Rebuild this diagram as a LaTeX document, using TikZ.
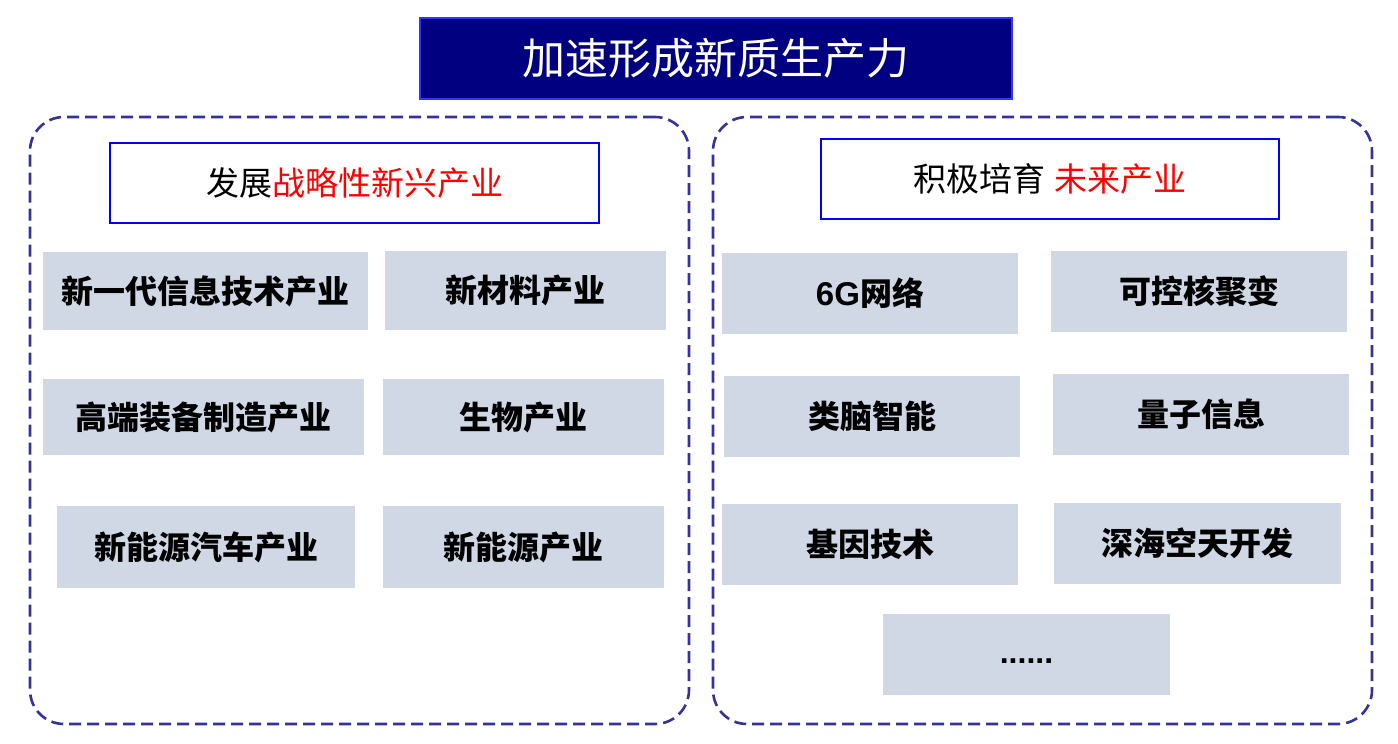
\documentclass[tikz,border=0pt]{standalone}
\usepackage{fontspec}
\setmainfont{Noto Sans CJK SC}
\newfontfamily\latin{Liberation Sans}
\usepackage{tikz}
\usepackage{xcolor}
\definecolor{titlenavy}{HTML}{000080}
\definecolor{titleedge}{HTML}{3333FF}
\definecolor{panelblue}{HTML}{333399}
\definecolor{headblue}{HTML}{0000FF}
\definecolor{cellgray}{HTML}{D0D8E6}
\definecolor{hotred}{HTML}{FF0000}

\begin{document}
\begin{tikzpicture}[x=1pt, y=-1pt, every node/.style={inner sep=0pt}]
\tikzstyle{titlebox}=[rectangle, draw=titleedge, fill=titlenavy, line width=1.2pt, text=white, font=\fontsize{43}{50}\selectfont]
\tikzstyle{panel}=[rectangle, draw=panelblue, line width=2.6pt, dash pattern=on 12pt off 6pt, rounded corners=34pt, minimum width=659pt, minimum height=607pt]
\tikzstyle{headbox}=[rectangle, draw=headblue, line width=2pt, fill=white, minimum height=80pt, font=\fontsize{33}{40}\selectfont]
\tikzstyle{cell}=[rectangle, fill=cellgray, font=\fontsize{32}{38}\selectfont\bfseries]
\useasboundingbox (0,0) rectangle (1398,744);
% title
\node[titlebox, minimum width=592pt, minimum height=81pt] (title) at (716,58.5) {加速形成新质生产力};
% two dashed panels
\node[panel] (leftpanel) at (359.5,420.5) {};
\node[panel] (rightpanel) at (1042.5,420.5) {};
% headers
\node[headbox, minimum width=489pt] (lefthead) at (354.5,183) {发展\textcolor{hotred}{战略性新兴产业}};
\node[headbox, minimum width=458pt] (righthead) at (1050,179) {积极培育\hspace{0.25em}\textcolor{hotred}{未来产业}};
% strategic emerging industries
\node[cell, minimum width=325pt, minimum height=78pt] (infotech) at (205.5,291) {新一代信息技术产业};
\node[cell, minimum width=281pt, minimum height=79pt] (material) at (525.5,290.5) {新材料产业};
\node[cell, minimum width=321pt, minimum height=76pt] (equip) at (203.5,417) {高端装备制造产业};
\node[cell, minimum width=281pt, minimum height=76pt] (bio) at (523.5,417) {生物产业};
\node[cell, minimum width=298pt, minimum height=82pt] (nev) at (206,547) {新能源汽车产业};
\node[cell, minimum width=281pt, minimum height=82pt] (energy) at (523.5,547) {新能源产业};
% future industries
\node[cell, minimum width=296pt, minimum height=81pt] (sixg) at (870,293.5) {{\latin\bfseries\fontsize{33}{38}\selectfont 6G}网络};
\node[cell, minimum width=296pt, minimum height=81pt] (fusion) at (1199,291.5) {可控核聚变};
\node[cell, minimum width=296pt, minimum height=81pt] (brain) at (872,416.5) {类脑智能};
\node[cell, minimum width=296pt, minimum height=81pt] (quantum) at (1201,414.5) {量子信息};
\node[cell, minimum width=296pt, minimum height=81pt] (gene) at (870,544.5) {基因技术};
\node[cell, minimum width=287pt, minimum height=81pt] (deepsea) at (1197.5,543.5) {深海空天开发};
\node[cell, minimum width=287pt, minimum height=81pt] (more) at (1026.5,654.5) {\raisebox{-9pt}[0pt][0pt]{\latin\bfseries\fontsize{32}{36}\selectfont ......}};
\end{tikzpicture}
\end{document}
